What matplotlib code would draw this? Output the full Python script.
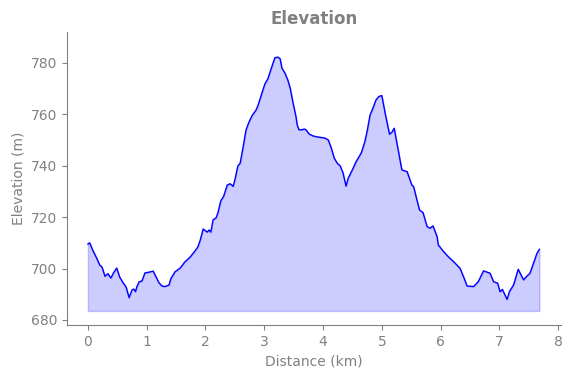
import matplotlib
matplotlib.use('Agg')
import matplotlib.pyplot as plt

distance = [0.00, 0.03, 0.085, 0.15, 0.20, 0.24, 0.29, 0.34, 0.39, 0.44,
            0.49, 0.54, 0.60, 0.65, 0.70, 0.75, 0.78, 0.81, 0.83, 0.87,
            0.92, 0.97, 1.06, 1.11, 1.16, 1.21, 1.26, 1.31, 1.38, 1.41,
            1.48, 1.57, 1.65, 1.74, 1.82, 1.87, 1.91, 1.96, 2.03, 2.06,
            2.09, 2.13, 2.18, 2.21, 2.26, 2.31, 2.37, 2.42, 2.47, 2.50,
            2.55, 2.59, 2.64, 2.69, 2.74, 2.79, 2.86, 2.89, 2.96, 3.01,
            3.06, 3.11, 3.15, 3.18, 3.23, 3.27, 3.30, 3.35, 3.40, 3.44,
            3.49, 3.54, 3.56, 3.59, 3.64, 3.68, 3.71, 3.76, 3.83, 3.91,
            4.03, 4.09, 4.14, 4.19, 4.24, 4.29, 4.34, 4.39, 4.43, 4.49,
            4.56, 4.61, 4.65, 4.71, 4.75, 4.80, 4.85, 4.90, 4.95, 5.00,
            5.06, 5.13, 5.17, 5.21, 5.28, 5.34, 5.39, 5.43, 5.51, 5.54,
            5.64, 5.70, 5.77, 5.82, 5.87, 5.94, 5.96, 6.05, 6.13, 6.22,
            6.33, 6.39, 6.45, 6.56, 6.64, 6.73, 6.84, 6.90, 6.97, 7.01,
            7.05, 7.08, 7.13, 7.17, 7.24, 7.32, 7.41, 7.47, 7.52, 7.58,
            7.64, 7.68]
elevation = [709.5, 710.0, 707.0, 704.0, 701.4, 700.6, 697.0, 698.0, 696.3, 698.5,
             700.2, 696.7, 694.4, 692.8, 688.7, 691.7, 692.0, 691.0, 692.8, 694.8,
             695.2, 698.3, 698.7, 699.0, 696.7, 694.4, 693.2, 693.0, 693.6, 696.0,
             698.7, 700.2, 702.6, 704.5, 706.8, 708.4, 711.0, 715.4, 714.2, 715.0,
             714.2, 719.0, 719.7, 721.6, 726.3, 728.2, 732.5, 733.0, 732.0, 734.5,
             739.9, 741.0, 747.3, 754.0, 757.0, 759.4, 761.7, 763.3, 768.3, 771.8,
             773.8, 777.3, 780.0, 782.0, 782.3, 781.6, 778.0, 776.1, 773.4, 770.3,
             764.4, 759.0, 755.9, 754.0, 754.0, 754.3, 754.0, 752.4, 751.6, 751.2,
             750.8, 750.0, 746.9, 743.0, 741.0, 740.0, 737.2, 732.1, 735.3, 738.0,
             741.5, 743.4, 745.0, 749.3, 753.5, 759.8, 762.5, 765.6, 767.0, 767.3,
             760.0, 752.3, 753.0, 754.6, 746.0, 738.4, 738.0, 737.7, 732.5, 731.9,
             722.8, 721.8, 716.3, 715.7, 716.6, 712.4, 709.2, 706.6, 704.6, 702.7,
             700.1, 696.8, 693.2, 693.0, 694.9, 699.1, 698.2, 694.9, 694.3, 691.0,
             691.9, 690.4, 688.0, 691.0, 693.6, 699.7, 695.6, 697.1, 698.2, 702.1,
             706.0, 707.5]
fill_base = 683.5

fig, ax = plt.subplots(figsize=(5.72, 3.78), dpi=100)
fig.subplots_adjust(left=0.117, right=0.981, top=0.915, bottom=0.14)

ax.plot(distance, elevation, color='blue', linewidth=1)
ax.fill_between(distance, elevation, fill_base, color='blue', alpha=0.2)

ax.set_xlim(-0.357, 8.05)
ax.set_ylim(678, 792)
ax.set_title('Elevation', color='gray', fontweight='bold', fontsize=12)
ax.set_xlabel('Distance (km)', color='gray')
ax.set_ylabel('Elevation (m)', color='gray')
ax.tick_params(colors='gray')
for side in ['top', 'right']:
    ax.spines[side].set_visible(False)
for side in ['left', 'bottom']:
    ax.spines[side].set_color('gray')

fig.savefig('out.png')
